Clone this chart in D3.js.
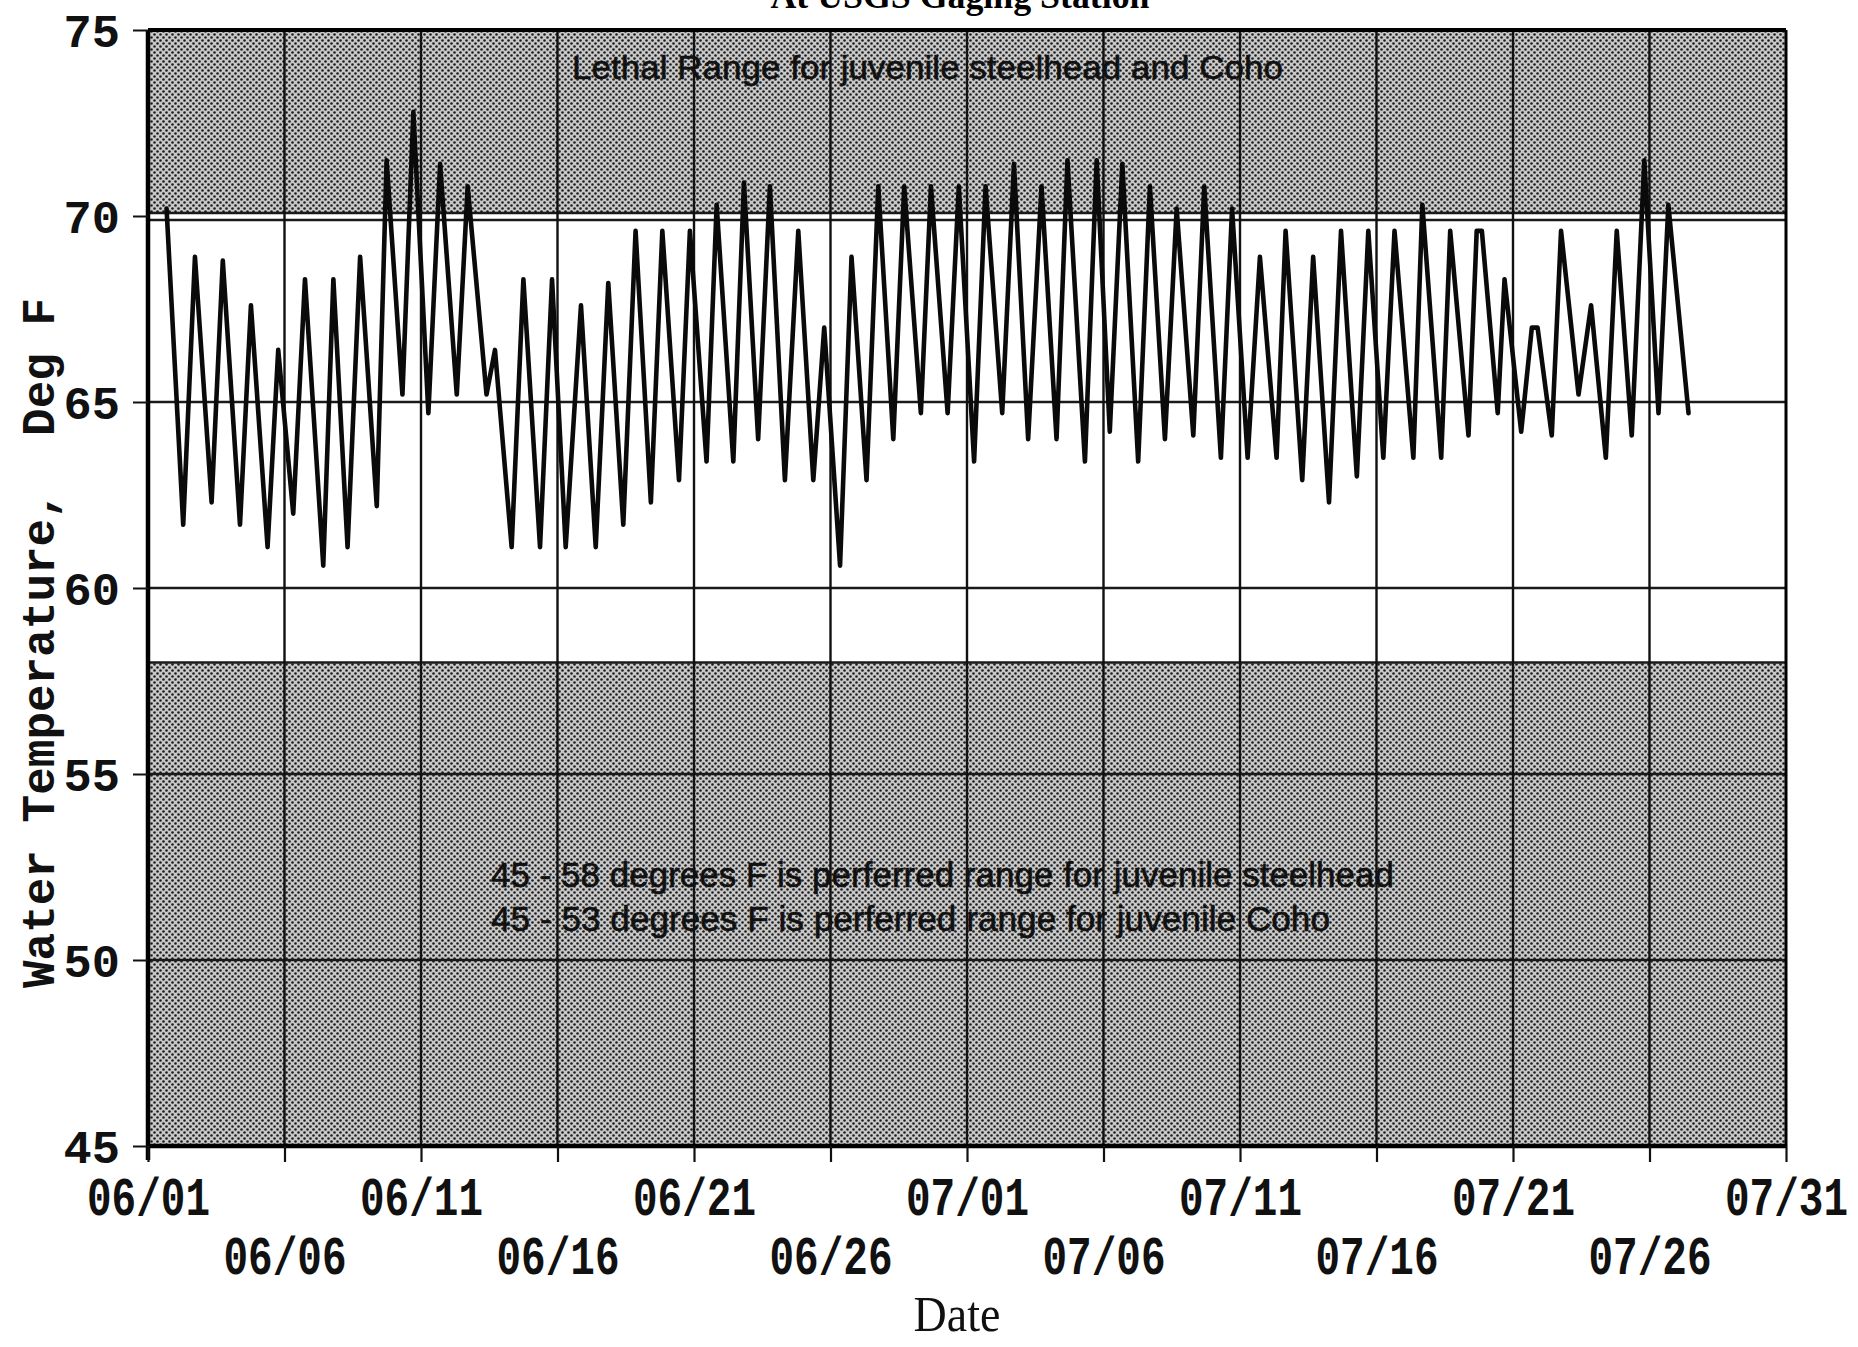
<!DOCTYPE html>
<html>
<head>
<meta charset="utf-8">
<script src="https://cdn.jsdelivr.net/npm/d3@7"></script>
<style>
    body { margin: 0; background: #fff; }
    svg { display: block; }
    .axis text { font-family: "Liberation Mono", monospace; font-weight: bold; fill: #111; }
</style>
</head>
<body>
<div id="chart"></div>
<script>
// tick labels and reference bands
const dateLabels = ['06/01', '06/06', '06/11', '06/16', '06/21', '06/26', '07/01',
    '07/06', '07/11', '07/16', '07/21', '07/26', '07/31'];
const tempTicks = [45, 50, 55, 60, 65, 70, 75];
const gridTemps = [50, 55, 60, 65, 70];
const lethalRange = [70, 75];
const preferredRange = [45, 58];

// turning points of the record: days after 06/01 and deg F
const dayOffsets = [
    0.68, 1.29, 1.72, 2.33, 2.74, 3.37, 3.77, 4.38, 4.77, 5.32, 5.75, 6.42, 6.79, 7.31,
    7.77, 8.38, 8.74, 9.32, 9.72, 10.27, 10.70, 11.31, 11.71, 12.40, 12.71, 13.32, 13.75,
    14.36, 14.80, 15.30, 15.86, 16.40, 16.86, 17.41, 17.86, 18.42, 18.84, 19.45, 19.85,
    20.46, 20.83, 21.44, 21.83, 22.35, 22.78, 23.33, 23.82, 24.37, 24.77, 25.35, 25.77,
    26.32, 26.75, 27.30, 27.70, 28.31, 28.68, 29.29, 29.70, 30.26, 30.68, 31.29, 31.72,
    32.24, 32.73, 33.28, 33.68, 34.32, 34.75, 35.23, 35.69, 36.27, 36.70, 37.25, 37.68,
    38.29, 38.69, 39.30, 39.71, 40.28, 40.73, 41.34, 41.67, 42.28, 42.68, 43.26, 43.70,
    44.28, 44.70, 45.25, 45.66, 46.35, 46.68, 47.37, 47.70, 48.37, 48.67, 48.86, 49.44,
    49.69, 50.30, 50.69, 50.90, 51.42, 51.76, 52.40, 52.86, 53.40, 53.80, 54.35, 54.81,
    55.33, 55.69, 56.43
];
const waterTemps = [
    70.2, 61.7, 68.9, 62.3, 68.8, 61.7, 67.6, 61.1, 66.4, 62.0, 68.3, 60.6, 68.3, 61.1,
    68.9, 62.2, 71.5, 65.2, 72.8, 64.7, 71.4, 65.2, 70.8, 65.2, 66.4, 61.1, 68.3,
    61.1, 68.3, 61.1, 67.6, 61.1, 68.2, 61.7, 69.6, 62.3, 69.6, 62.9, 69.6,
    63.4, 70.3, 63.4, 70.9, 64.0, 70.8, 62.9, 69.6, 62.9, 67.0, 60.6, 68.9,
    62.9, 70.8, 64.0, 70.8, 64.7, 70.8, 64.7, 70.8, 63.4, 70.8, 64.7, 71.4,
    64.0, 70.8, 64.0, 71.5, 63.4, 71.5, 64.2, 71.4, 63.4, 70.8, 64.0, 70.2,
    64.1, 70.8, 63.5, 70.2, 63.5, 68.9, 63.5, 69.6, 62.9, 68.9, 62.3, 69.6,
    63.0, 69.6, 63.5, 69.6, 63.5, 70.3, 63.5, 69.6, 64.1, 69.6, 69.6, 64.7,
    68.3, 64.2, 67.0, 67.0, 64.1, 69.6, 65.2, 67.6, 63.5, 69.6, 64.1, 71.5,
    64.7, 70.3, 64.7
];

const titleText = 'At USGS Gaging Station';
const lethalNote = 'Lethal Range for juvenile steelhead and Coho';
const preferredNotes = [
    '45 - 58 degrees F is perferred range for juvenile steelhead',
    '45 - 53 degrees F is perferred range for juvenile Coho'
];
const yLabel = 'Water Temperature,  Deg F';
const xLabel = 'Date';

class TempChart {
    constructor() {
        this.size = {"width": 1858, "height": 1347};
        this.plot = {"left": 148, "right": 1786, "top": 30, "bottom": 1146};

        let parse = d3.utcParse('%m/%d');
        this.tickDates = dateLabels.map(parse);
        this.start = this.tickDates[0];

        this.xScale = d3.scaleUtc()
            .domain([this.start, this.tickDates[this.tickDates.length - 1]])
            .range([this.plot.left, this.plot.right]);

        this.yScale = d3.scaleLinear()
            .domain([45, 75])
            .range([this.plot.bottom, this.plot.top]);

        this.points = dayOffsets.map((d, i) => ({
            date: new Date(this.start.getTime() + d * 864e5),
            temp: waterTemps[i]
        }));
    }

    init() {
        this.svg = d3.select('#chart')
            .append('svg')
                .attr('width', this.size.width)
                .attr('height', this.size.height);

        // stipple used for the shaded ranges
        let pattern = this.svg.append('defs')
            .append('pattern')
                .attr('id', 'stipple')
                .attr('patternUnits', 'userSpaceOnUse')
                .attr('width', 6)
                .attr('height', 6);
        pattern.append('rect')
            .attr('width', 6)
            .attr('height', 6)
            .attr('fill', '#c8c8c8');
        pattern.selectAll('circle')
            .data([[1.5, 1.5], [4.5, 4.5]])
            .join('circle')
                .attr('cx', d => d[0])
                .attr('cy', d => d[1])
                .attr('r', 1.3)
                .attr('fill', '#1e1e1e');

        this.drawBands();
        this.drawGrid();
        this.drawLine();
        this.drawAxes();
        this.drawText();
    }

    drawBands() {
        let y = this.yScale;
        let w = this.plot.right - this.plot.left;

        this.svg.append('rect')
            .attr('x', this.plot.left)
            .attr('y', y(lethalRange[1]))
            .attr('width', w)
            .attr('height', y(lethalRange[0]) - y(lethalRange[1]) - 3)
            .attr('fill', 'url(#stipple)');

        this.svg.append('rect')
            .attr('x', this.plot.left)
            .attr('y', y(preferredRange[1]))
            .attr('width', w)
            .attr('height', y(preferredRange[0]) - y(preferredRange[1]))
            .attr('fill', 'url(#stipple)');

        // edges of the bands
        this.svg.selectAll('line.band-edge')
            .data([y(lethalRange[0]) - 3, y(preferredRange[1])])
            .join('line')
                .attr('class', 'band-edge')
                .attr('x1', this.plot.left)
                .attr('x2', this.plot.right)
                .attr('y1', d => d)
                .attr('y2', d => d)
                .attr('stroke', '#1a1a1a')
                .attr('stroke-width', 2.5);
    }

    drawGrid() {
        let x = this.xScale, y = this.yScale;

        this.svg.selectAll('line.hgrid')
            .data(gridTemps)
            .join('line')
                .attr('class', 'hgrid')
                .attr('x1', this.plot.left)
                .attr('x2', this.plot.right)
                .attr('y1', d => y(d) + (d === 70 ? 4 : 0))
                .attr('y2', d => y(d) + (d === 70 ? 4 : 0))
                .attr('stroke', '#1a1a1a')
                .attr('stroke-width', 2.5);

        this.svg.selectAll('line.vgrid')
            .data(this.tickDates.slice(1, -1))
            .join('line')
                .attr('class', 'vgrid')
                .attr('x1', d => x(d))
                .attr('x2', d => x(d))
                .attr('y1', this.plot.top)
                .attr('y2', this.plot.bottom)
                .attr('stroke', '#111')
                .attr('stroke-width', 2.4);
    }

    drawLine() {
        let x = this.xScale, y = this.yScale;

        let line = d3.line()
            .x(d => x(d.date))
            .y(d => y(d.temp));

        this.svg.append('path')
            .datum(this.points)
            .attr('d', line)
            .attr('fill', 'none')
            .attr('stroke', '#0a0a0a')
            .attr('stroke-width', 4.6)
            .attr('stroke-linejoin', 'round')
            .attr('stroke-linecap', 'round');
    }

    drawAxes() {
        let x = this.xScale, y = this.yScale;

        // frame
        let frame = [
            {x1: this.plot.left, x2: this.plot.right, y1: this.plot.top, y2: this.plot.top, w: 4},
            {x1: this.plot.left, x2: this.plot.right, y1: this.plot.bottom, y2: this.plot.bottom, w: 4.5},
            {x1: this.plot.left, x2: this.plot.left, y1: this.plot.top, y2: this.plot.bottom + 14, w: 4.5},
            {x1: this.plot.right, x2: this.plot.right, y1: this.plot.top, y2: this.plot.bottom, w: 3}
        ];
        this.svg.selectAll('line.frame')
            .data(frame)
            .join('line')
                .attr('class', 'frame')
                .attr('x1', d => d.x1)
                .attr('x2', d => d.x2)
                .attr('y1', d => d.y1)
                .attr('y2', d => d.y2)
                .attr('stroke', '#000')
                .attr('stroke-width', d => d.w);

        let yAxis = d3.axisLeft(y)
            .tickValues(tempTicks)
            .tickSize(15)
            .tickPadding(13)
            .tickFormat(d3.format('d'));

        let gy = this.svg.append('g')
            .attr('class', 'axis')
            .attr('transform', `translate(${this.plot.left}, 0)`)
            .call(yAxis);
        gy.select('.domain').remove();
        gy.selectAll('.tick line').attr('stroke', '#111').attr('stroke-width', 2);
        gy.selectAll('.tick text')
            .attr('font-size', 47)
            .attr('dy', '0.36em');

        let xAxis = d3.axisBottom(x)
            .tickValues(this.tickDates)
            .tickSize(16)
            .tickFormat(d3.utcFormat('%m/%d'));

        let gx = this.svg.append('g')
            .attr('class', 'axis')
            .attr('transform', `translate(0, ${this.plot.bottom})`)
            .call(xAxis);
        gx.select('.domain').remove();
        gx.selectAll('.tick line').attr('stroke', '#111').attr('stroke-width', 2.2);

        // two staggered rows of dates
        gx.selectAll('.tick text')
            .attr('font-size', 41)
            .attr('y', null)
            .attr('dy', null)
            .attr('transform', (d, i) => `translate(0, ${i % 2 ? 128 : 69}) scale(1, 1.3)`);
    }

    drawText() {
        // title is cut by the top edge, as in the scan
        this.svg.append('text')
            .attr('x', 960)
            .attr('y', 8)
            .attr('text-anchor', 'middle')
            .attr('textLength', 379)
            .attr('lengthAdjust', 'spacingAndGlyphs')
            .style('font-family', '"Liberation Serif", serif')
            .style('font-weight', 'bold')
            .style('font-size', '36px')
            .text(titleText);

        this.svg.append('text')
            .attr('x', 572)
            .attr('y', 79)
            .attr('textLength', 711)
            .attr('lengthAdjust', 'spacingAndGlyphs')
            .style('font-family', '"Liberation Sans", Arial, sans-serif')
            .style('font-size', '34px')
            .style('fill', '#111')
            .style('stroke', '#111')
            .style('stroke-width', 0.6)
            .text(lethalNote);

        this.svg.selectAll('text.pref')
            .data(preferredNotes)
            .join('text')
                .attr('class', 'pref')
                .attr('x', 491)
                .attr('y', (d, i) => 887 + i * 44)
                .attr('textLength', (d, i) => i ? 839 : 903)
                .attr('lengthAdjust', 'spacingAndGlyphs')
                .style('font-family', '"Liberation Sans", Arial, sans-serif')
                .style('font-size', '35px')
                .style('fill', '#111')
                .style('stroke', '#111')
                .style('stroke-width', 0.6)
                .text(d => d);

        this.svg.append('text')
            .attr('transform', 'translate(54, 643) rotate(-90)')
            .attr('text-anchor', 'middle')
            .style('font-family', '"Liberation Mono", monospace')
            .style('font-weight', 'bold')
            .style('font-size', '46px')
            .style('white-space', 'pre')
            .style('fill', '#111')
            .text(yLabel);

        this.svg.append('text')
            .attr('transform', 'translate(957, 1331) scale(1, 1.1)')
            .attr('text-anchor', 'middle')
            .style('font-family', '"Liberation Serif", "Times New Roman", serif')
            .style('font-size', '46px')
            .style('fill', '#111')
            .text(xLabel);
    }
}

let chart = new TempChart();
chart.init();
</script>
</body>
</html>
